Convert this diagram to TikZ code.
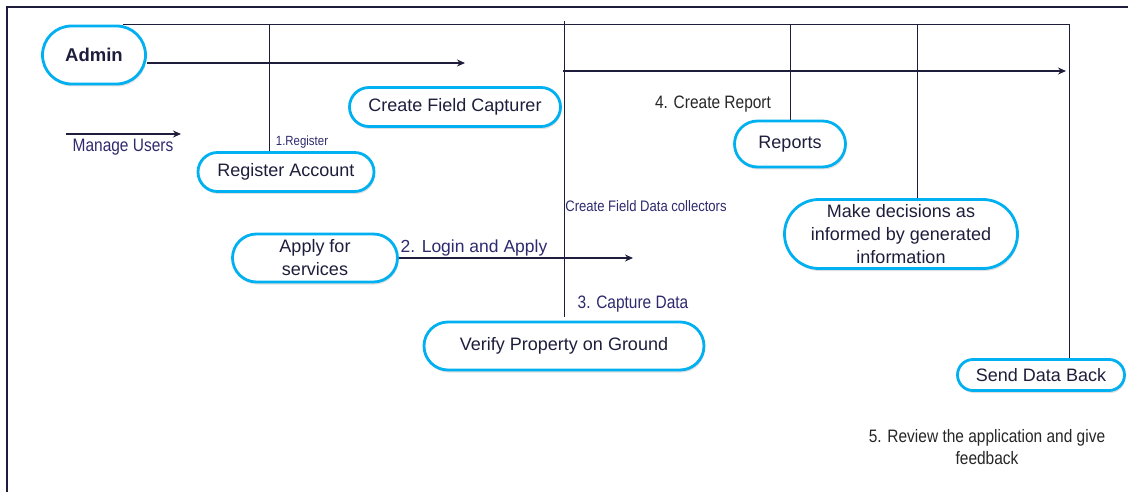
\documentclass[tikz,border=0pt]{standalone}
\usepackage{fontspec}
\setmainfont{Liberation Sans}
\newfontfamily\narrowfont[FakeStretch=0.86]{Liberation Sans}
\usetikzlibrary{arrows.meta,shapes.misc,shadows}
\definecolor{pillblue}{HTML}{00B0F0}
\definecolor{inkblue}{HTML}{1E1E3C}
\definecolor{labelblue}{HTML}{2E2A6E}

\begin{document}
\begin{tikzpicture}[x=1pt,y=-1pt,>={Stealth[length=8pt,width=7pt]}]
    \tikzstyle{pill}=[rounded rectangle,draw=pillblue,line width=2.8pt,fill=white,text=inkblue,
        align=center,inner sep=2pt,font=\fontsize{18}{21}\selectfont,
        drop shadow={opacity=0.25,shadow xshift=1pt,shadow yshift=-2.5pt}]
    \tikzstyle{wire}=[draw=inkblue,line width=1pt]
    \tikzstyle{flow}=[draw=inkblue,line width=2.2pt,->]
    \tikzstyle{lbl}=[text=labelblue,font=\narrowfont\fontsize{18}{21}\selectfont,inner sep=0pt]

    \useasboundingbox (0,0) rectangle (1128,492);
    \draw[inkblue,line width=1.2pt] (7,492) -- (7,7) -- (1128,7);

    \node[pill,font=\bfseries\fontsize{18.5}{21}\selectfont,minimum width=107pt,minimum height=58pt] (admin) at (94,55) {Admin};
    \node[pill,minimum width=215pt,minimum height=39pt] (capturer) at (455,107) {Create Field Capturer};
    \node[pill,minimum width=180pt,minimum height=39pt] (register) at (286,172) {Register Account};
    \node[pill,minimum width=115pt,minimum height=46pt] (reports) at (790,144) {Reports};
    \node[pill,minimum width=237pt,minimum height=69pt,font=\fontsize{18}{23}\selectfont] (decide) at (901,234) {Make decisions as\\informed by generated\\information};
    \node[pill,minimum width=169pt,minimum height=48pt,font=\fontsize{18}{23}\selectfont] (apply) at (315,258) {Apply for\\services};
    \node[pill,minimum width=284pt,minimum height=48pt] (verify) at (564,346) {Verify Property on Ground};
    \node[pill,minimum width=171pt,minimum height=31pt] (sendback) at (1041,375) {Send Data Back};

    \coordinate (corner) at (1069,29);
    \coordinate (usersstart) at (66,134);
    \coordinate (usersend) at (181,134);
    \coordinate (adminend) at (465,63);
    \coordinate (capstart) at (563,71);
    \coordinate (capend) at (1066,71);
    \coordinate (applyend) at (633,258);

    % lines from the top bus
    \draw[wire] ([xshift=6pt]admin.north east) -- (admin.north east -| corner) -- (sendback.north -| corner);
    \draw[wire] ([xshift=-17pt]register.north) -- ([xshift=-17pt]register.north |- admin.north east);
    \draw[wire] ([yshift=4pt]verify.north) -- ([yshift=4pt]verify.north |- admin.north east);
    \draw[wire] (reports.north) -- (reports.north |- admin.north east);
    \draw[wire] ([xshift=16pt]decide.north) -- ([xshift=16pt]decide.north |- admin.north east);

    % arrows
    \draw[flow] (usersstart) -- (usersend);
    \draw[flow] ([yshift=-8pt]admin.east) -- (adminend);
    \draw[flow] (capstart) -- (capend);
    \draw[flow,line width=1.8pt] (apply.east) -- (applyend);

    % labels
    \node[lbl] (manage) at (123,147) {Manage Users};
    \node[lbl,font=\narrowfont\fontsize{13.3}{15}\selectfont] (lregister) at (302,142) {1.Register};
    \node[lbl,font=\narrowfont\fontsize{15.2}{17}\selectfont] (lcollect) at (646,206) {Create Field Data collectors};
    \node[lbl,font=\fontsize{17.5}{20}\selectfont] (llogin) at (474,248) {2. Login and Apply};
    \node[lbl] (lcapture) at (633,304) {3. Capture Data};
    \node[lbl,text=black!85] (lreport) at (713,104) {4. Create Report};
    \node[lbl,text=black!85,align=center,font=\narrowfont\fontsize{18}{22}\selectfont] (lreview) at (987,447) {5. Review the application and give\\feedback};
\end{tikzpicture}
\end{document}
